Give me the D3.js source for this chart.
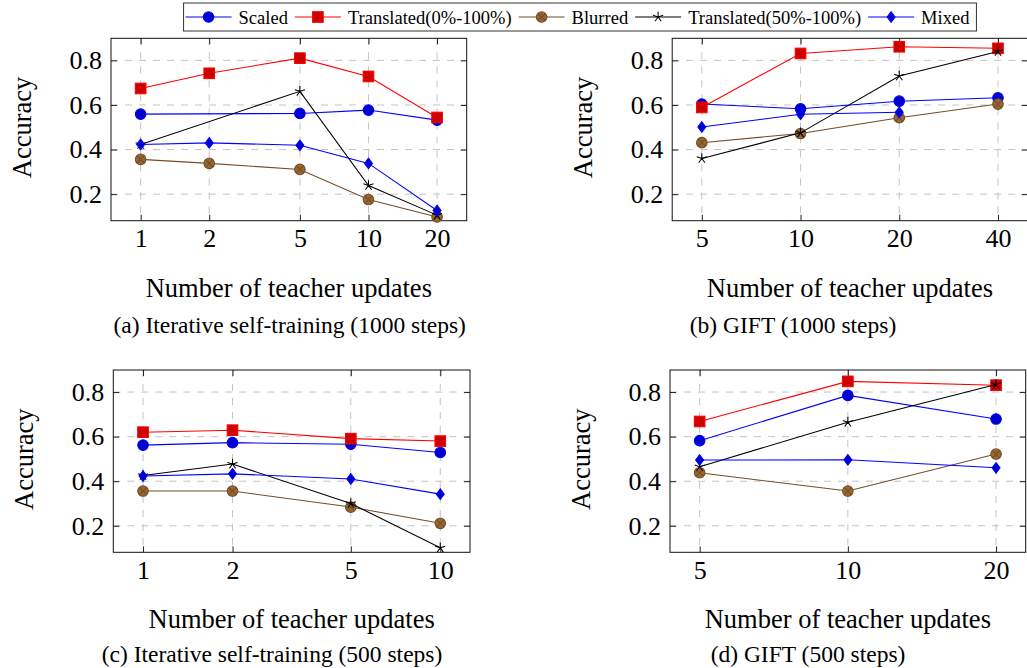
<!DOCTYPE html>
<html>
<head>
<meta charset="utf-8">
<script src="https://cdn.jsdelivr.net/npm/d3@7"></script>
<style>
  body { margin: 0; background: #fff; }
  svg { display: block; }
  svg text { font-family: "Liberation Serif", "Times New Roman", serif; }
</style>
</head>
<body>
<div id="chart"></div>
<script>
const seriesNames = ["Scaled", "Translated(0%-100%)", "Blurred", "Translated(50%-100%)", "Mixed"];
const yTicks = [0.2, 0.4, 0.6, 0.8];
const yDomain = [0.081, 0.899];

// (a) iterative self-training, 1000 steps
const xA = [1, 2, 5, 10, 20];
const scaledA = [0.559, null, 0.562, 0.577, 0.532];
const trans0A = [0.674, 0.742, 0.810, 0.728, 0.544];
const blurredA = [0.356, 0.338, 0.311, 0.176, 0.098];
const trans50A = [0.423, null, 0.661, 0.239, 0.106];
const mixedA = [0.423, 0.430, 0.419, 0.338, 0.127];

// (b) GIFT, 1000 steps
const xB = [5, 10, 20, 40];
const scaledB = [0.604, 0.583, 0.617, 0.632];
const trans0B = [0.589, 0.831, 0.861, 0.854];
const blurredB = [0.431, 0.472, 0.543, 0.604];
const trans50B = [0.360, 0.475, 0.730, 0.840];
const mixedB = [0.501, 0.558, 0.567, null];

// (c) iterative self-training, 500 steps
const xC = [1, 2, 5, 10];
const scaledC = [0.562, 0.573, 0.566, 0.529];
const trans0C = [0.620, 0.629, 0.591, 0.580];
const blurredC = [0.356, 0.356, 0.284, 0.211];
const trans50C = [0.426, 0.477, 0.300, 0.101];
const mixedC = [0.423, 0.433, 0.410, 0.342];

// (d) GIFT, 500 steps
const xD = [5, 10, 20];
const scaledD = [0.582, 0.785, 0.679];
const trans0D = [0.668, 0.848, 0.831];
const blurredD = [0.438, 0.356, 0.522];
const trans50D = [0.465, 0.665, 0.834];
const mixedD = [0.495, 0.496, 0.460];

const captions = [
  "(a) Iterative self-training (1000 steps)",
  "(b) GIFT (1000 steps)",
  "(c) Iterative self-training (500 steps)",
  "(d) GIFT (500 steps)",
];

// styles (pgfplots default cycle)
const lineColors = ["#0000ff", "#ff0000", "#734d26", "#000000", "#0000ff"];
const fillColors = ["#0000cc", "#cc0000", "#996633", "none", "#0000cc"];
const markTypes = ["circle", "square", "otimes", "star", "diamond"];
const markSize = 5.3;
const lineWidth = 1.06;

const panels = [
  { xs: xA, ys: [scaledA, trans0A, blurredA, trans50A, mixedA], box: [111, 38.3, 466.7, 220.7], cap: [289.7, 333] },
  { xs: xB, ys: [scaledB, trans0B, blurredB, trans50B, mixedB], box: [672.2, 38.3, 1027.6, 220.7], cap: [793, 333] },
  { xs: xC, ys: [scaledC, trans0C, blurredC, trans50C, mixedC], box: [113.3, 370, 470, 552.3], cap: [272, 662] },
  { xs: xD, ys: [scaledD, trans0D, blurredD, trans50D, mixedD], box: [670, 370, 1025.7, 552.3], cap: [808, 662] },
];

const svg = d3
  .select("#chart")
  .append("svg")
  .attr("width", 1027)
  .attr("height", 668);

function drawMark(g, type, i, x, y) {
  const s = markSize;
  const stroke = lineColors[i];
  const fill = fillColors[i];
  if (type === "circle" || type === "otimes") {
    g.append("circle")
      .attr("cx", x).attr("cy", y).attr("r", s)
      .attr("fill", fill).attr("stroke", stroke).attr("stroke-width", lineWidth);
    if (type === "otimes") {
      const d = s * 0.707;
      g.append("path")
        .attr("d", `M${x - d},${y - d}L${x + d},${y + d}M${x - d},${y + d}L${x + d},${y - d}`)
        .attr("stroke", stroke).attr("stroke-width", lineWidth);
    }
  } else if (type === "square") {
    g.append("rect")
      .attr("x", x - s).attr("y", y - s).attr("width", 2 * s).attr("height", 2 * s)
      .attr("fill", fill).attr("stroke", stroke).attr("stroke-width", lineWidth);
  } else if (type === "diamond") {
    g.append("path")
      .attr("d", `M${x},${y - s}L${x + 0.75 * s},${y}L${x},${y + s}L${x - 0.75 * s},${y}Z`)
      .attr("fill", fill).attr("stroke", stroke).attr("stroke-width", lineWidth);
  } else if (type === "star") {
    let d = "";
    for (let k = 0; k < 5; k++) {
      const a = -Math.PI / 2 + (k * 2 * Math.PI) / 5;
      d += `M${x},${y}L${x + s * Math.cos(a)},${y + s * Math.sin(a)}`;
    }
    g.append("path").attr("d", d).attr("fill", "none")
      .attr("stroke", stroke).attr("stroke-width", lineWidth);
  }
}

panels.forEach((p, pi) => {
  const [left, top, right, bottom] = p.box;
  const xmin = d3.min(p.xs);
  const xmax = d3.max(p.xs);
  const enlarge = Math.pow(xmax / xmin, 0.1);

  const x = d3.scaleLog().domain([xmin / enlarge, xmax * enlarge]).range([left, right]);
  const y = d3.scaleLinear().domain(yDomain).range([bottom, top]);

  const g = svg.append("g");

  // grid
  g.selectAll(".vgrid")
    .data(p.xs)
    .enter()
    .append("line")
    .attr("x1", (d) => x(d)).attr("x2", (d) => x(d))
    .attr("y1", top).attr("y2", bottom)
    .attr("stroke", "#c4c4c4").attr("stroke-width", 1).attr("stroke-dasharray", "7,7");
  g.selectAll(".hgrid")
    .data(yTicks)
    .enter()
    .append("line")
    .attr("x1", left).attr("x2", right)
    .attr("y1", (d) => y(d)).attr("y2", (d) => y(d))
    .attr("stroke", "#c4c4c4").attr("stroke-width", 1).attr("stroke-dasharray", "7,7");

  // inward ticks on all four sides
  const tickLen = 6;
  const tickStyle = (sel) => {
    sel.select(".domain").remove();
    sel.selectAll(".tick line").attr("stroke", "#222").attr("stroke-width", 1);
  };
  g.append("g").attr("transform", `translate(0,${bottom})`)
    .call(d3.axisTop(x).tickValues(p.xs).tickFormat("").tickSize(tickLen)).call(tickStyle);
  g.append("g").attr("transform", `translate(0,${top})`)
    .call(d3.axisBottom(x).tickValues(p.xs).tickFormat("").tickSize(tickLen)).call(tickStyle);
  g.append("g").attr("transform", `translate(${left},0)`)
    .call(d3.axisRight(y).tickValues(yTicks).tickFormat("").tickSize(tickLen)).call(tickStyle);
  g.append("g").attr("transform", `translate(${right},0)`)
    .call(d3.axisLeft(y).tickValues(yTicks).tickFormat("").tickSize(tickLen)).call(tickStyle);

  // tick labels
  const xLab = g.append("g").attr("transform", `translate(0,${bottom})`)
    .call(d3.axisBottom(x).tickValues(p.xs).tickFormat(d3.format("d")).tickSize(0).tickPadding(8));
  xLab.select(".domain").remove();
  xLab.selectAll("text").attr("fill", "#000").style("font-size", "26px");

  const yLab = g.append("g").attr("transform", `translate(${left},0)`)
    .call(d3.axisLeft(y).tickValues(yTicks).tickFormat(d3.format(".1f")).tickSize(0).tickPadding(9));
  yLab.select(".domain").remove();
  yLab.selectAll("text").attr("fill", "#000").style("font-size", "26px");

  // frame
  g.append("rect")
    .attr("x", left).attr("y", top)
    .attr("width", right - left).attr("height", bottom - top)
    .attr("fill", "none").attr("stroke", "#111").attr("stroke-width", 1);

  // series
  const line = d3.line().x((d) => x(d[0])).y((d) => y(d[1]));
  p.ys.forEach((vals, i) => {
    const pts = p.xs.map((xv, k) => [xv, vals[k]]).filter((d) => d[1] != null);
    const sg = g.append("g");
    sg.append("path")
      .attr("d", line(pts))
      .attr("fill", "none")
      .attr("stroke", lineColors[i])
      .attr("stroke-width", lineWidth);
    pts.forEach((d) => drawMark(sg, markTypes[i], i, x(d[0]), y(d[1])));
  });

  // axis labels
  g.append("text")
    .attr("x", (left + right) / 2).attr("y", bottom + 76)
    .attr("text-anchor", "middle").attr("font-size", 26.5)
    .text("Number of teacher updates");
  g.append("text")
    .attr("transform", `translate(${left - 80},${(top + bottom) / 2 - 2}) rotate(-90)`)
    .attr("text-anchor", "middle").attr("font-size", 26.5)
    .text("Accuracy");

  // caption
  g.append("text")
    .attr("x", p.cap[0]).attr("y", p.cap[1])
    .attr("text-anchor", "middle").attr("font-size", 23.5)
    .text(captions[pi]);
});

// legend
const legend = svg.append("g");
let cx = 0;
seriesNames.forEach((name, i) => {
  const eg = legend.append("g");
  eg.append("line")
    .attr("x1", cx + 2).attr("x2", cx + 48)
    .attr("y1", 0).attr("y2", 0)
    .attr("stroke", lineColors[i]).attr("stroke-width", lineWidth);
  drawMark(eg, markTypes[i], i, cx + 25, 0);
  const t = eg.append("text")
    .attr("x", cx + 55).attr("y", 6.5)
    .attr("font-size", 18.5)
    .text(name);
  cx += 55 + t.node().getComputedTextLength() + 5;
});
const boxW = cx + 2;
legend.insert("rect", ":first-child")
  .attr("x", 0).attr("y", -14)
  .attr("width", boxW).attr("height", 28)
  .attr("fill", "#fff").attr("stroke", "#333").attr("stroke-width", 1);
legend.attr("transform", `translate(${580 - boxW / 2},17)`);
</script>
</body>
</html>
